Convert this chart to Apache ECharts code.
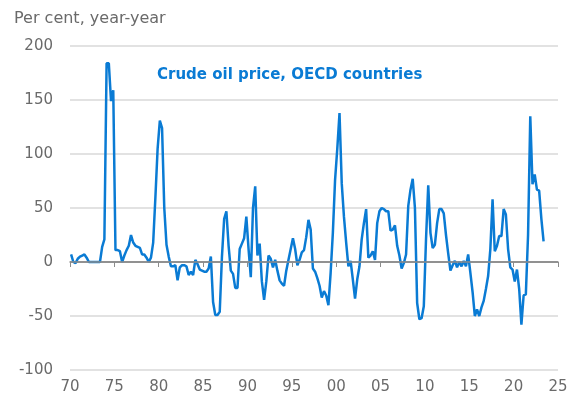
<!DOCTYPE html>
<html>
<head>
<meta charset="utf-8">
<script src="https://cdn.jsdelivr.net/npm/echarts@6/dist/echarts.min.js"></script>
<style>
  html, body { margin: 0; padding: 0; background: #fff; }
  #chart { width: 573px; height: 403px; }
</style>
</head>
<body>
<div id="chart"></div>
<script>
// quarterly y/y change in crude oil price, per cent, from 1970Q1
var startYear = 1970;
var oil1970s = [7, 0, -1, 3, 5, 6, 7, 4, 0, 0, 0, 0, 0, 0, 14, 21,
  184, 184, 149, 159, 11, 11, 10, 0, 6, 11, 15, 25, 18, 15, 14, 13,
  7, 7, 4, 0, 4, 18, 60, 105];
var oil1980s = [131, 124, 50, 16, 5, -4, -4, -3, -17, -5, -3, -3, -4, -12, -9, -12,
  2, -2, -7, -8, -9, -9, -6, 5, -37, -49, -49, -46, 5, 40, 47, 15,
  -8, -11, -24, -24, 12, 17, 22, 42];
var oil1990s = [12, -14, 50, 70, 6, 17, -18, -35, -18, 6, 3, -5, 2, -8, -17, -20,
  -22, -8, 2, 12, 22, 12, -3, 2, 9, 11, 23, 39, 30, -6, -9, -15,
  -22, -33, -27, -31, -40, -10, 27, 76];
var oil2000s = [105, 138, 73, 42, 18, -4, 1, -16, -34, -16, -4, 21, 36, 49, 4, 6,
  10, 2, 36, 47, 50, 49, 47, 47, 29, 30, 34, 15, 6, -6, -1, 7,
  52, 67, 77, 50, -38, -53, -52, -41];
var oil2010s = [21, 71, 27, 13, 16, 36, 49, 49, 45, 25, 8, -8, -3, 1, -5, 0,
  -4, 1, -4, 7, -10, -28, -50, -44, -50, -42, -36, -25, -13, 12, 58, 10,
  15, 24, 24, 49, 44, 12, -5, -7];
var oil2020s = [-18, -7, -25, -58, -31, -30, 25, 135, 72, 81, 67, 66, 40, 19];

var yTicks = [-100, -50, 0, 50, 100, 150, 200];
var xTicks = [1970, 1975, 1980, 1985, 1990, 1995, 2000, 2005, 2010, 2015, 2020, 2025];

var oilValues = [].concat(oil1970s, oil1980s, oil1990s, oil2000s, oil2010s, oil2020s);
var oilData = oilValues.map(function (v, i) {
  return [startYear + (i + 0.5) / 4, v];
});

var blue = '#0a7bd4';
var grey = '#6a6a6a';
var font = 'DejaVu Sans';

var chart = echarts.init(document.getElementById('chart'));
chart.setOption({
  animation: false,
  title: [
    {
      text: 'Per cent, year-year',
      left: 9, top: 6,
      textStyle: { fontFamily: font, fontSize: 16, fontWeight: 'normal', color: grey }
    },
    {
      text: 'Crude oil price, OECD countries',
      left: 152, top: 63,
      textStyle: { fontFamily: font, fontSize: 15, fontWeight: 'bold', color: blue }
    }
  ],
  grid: { left: 70, right: 15, top: 46, bottom: 33 },
  xAxis: {
    type: 'value',
    min: xTicks[0],
    max: xTicks[xTicks.length - 1],
    interval: 5,
    axisLine: { lineStyle: { color: '#8c8c8c', width: 1.5 } },
    axisTick: { show: true, length: 5, lineStyle: { color: '#8c8c8c' } },
    splitLine: { show: false },
    axisLabel: {
      color: grey, fontFamily: font, fontSize: 15, margin: 10,
      formatter: function (v) { return String(v % 100).padStart(2, '0'); }
    }
  },
  yAxis: {
    type: 'value',
    min: yTicks[0],
    max: yTicks[yTicks.length - 1],
    interval: 50,
    axisLine: { show: false },
    axisTick: { show: false },
    splitLine: { lineStyle: { color: '#d9d9d9', width: 1.5 } },
    axisLabel: { color: grey, fontFamily: font, fontSize: 15, margin: 17 }
  },
  series: [
    {
      type: 'line',
      data: oilData,
      showSymbol: false,
      lineStyle: { color: blue, width: 2.5 },
      markLine: {
        silent: true,
        symbol: 'none',
        label: { show: false },
        lineStyle: { color: '#8c8c8c', type: 'solid', width: 1.5 },
        data: [{ yAxis: 0 }]
      },
      z: 3
    }
  ]
});
</script>
</body>
</html>
